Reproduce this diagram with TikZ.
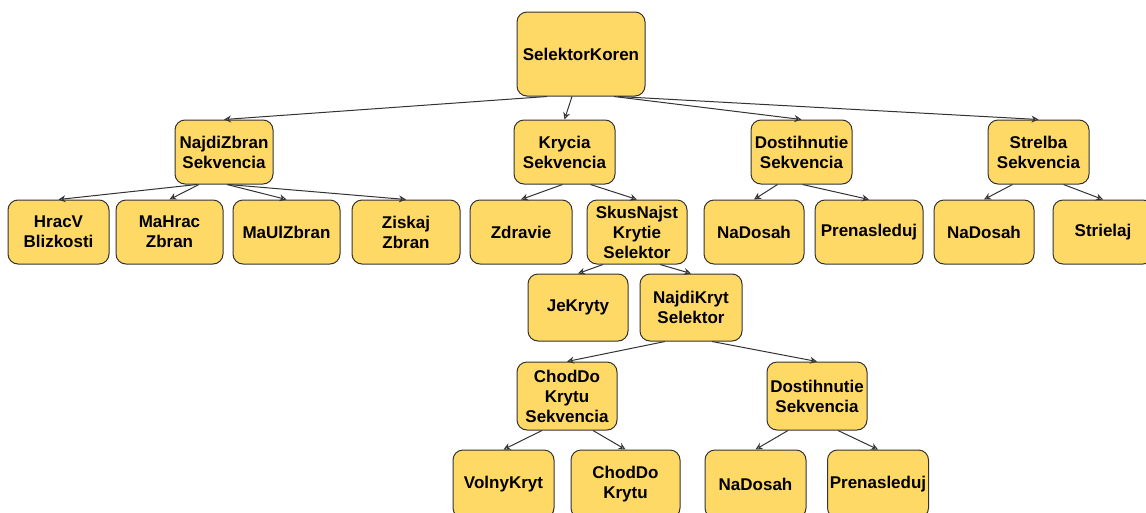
\documentclass[tikz,border=0pt]{standalone}
\usepackage{fontspec}
\setmainfont{Liberation Sans}
\usepackage{xcolor}
\usetikzlibrary{arrows.meta,positioning}
\definecolor{knotenGelb}{HTML}{FFD966}
\definecolor{randGrau}{HTML}{333333}
\tikzstyle{treeNode} = [draw=randGrau, fill=knotenGelb, rounded corners=10pt,
	line width=1pt, align=center, inner sep=0pt,
	minimum width=100pt, minimum height=64pt,
	font=\fontsize{17}{20}\selectfont\bfseries]
\tikzstyle{treeArrow} = [draw=randGrau, line width=1pt,
	-{Stealth[open,length=7pt,width=7pt]}]

\begin{document}
\begin{tikzpicture}[x=1pt,y=-1pt]
		\clip (0,0) rectangle (1146,512);
		\useasboundingbox (0,0) rectangle (1146,512);
		\node[treeNode, minimum width=128pt, minimum height=84pt] (root) at (581,54) {SelektorKoren};	% Wurzel
		% 1. Ebene
		\node[treeNode, minimum width=98pt] (najdiZbran) at (224,152) {NajdiZbran\\Sekvencia};
		\node[treeNode, minimum width=101pt] (krycia) at (564.5,152) {Krycia\\Sekvencia};
		\node[treeNode, minimum width=101pt] (dostihnutie) at (801.5,152) {Dostihnutie\\Sekvencia};
		\node[treeNode, minimum width=101pt] (strelba) at (1038.5,152) {Strelba\\Sekvencia};
		% 2. Ebene
		\node[treeNode, minimum width=101pt] (hracV) at (58.5,232) {HracV\\Blizkosti};
		\node[treeNode, minimum width=107pt] (maHrac) at (169.5,232) {MaHrac\\Zbran};
		\node[treeNode, minimum width=107pt] (maUl) at (286.5,232) {MaUlZbran};
		\node[treeNode, minimum width=108pt] (ziskaj) at (406,232) {Ziskaj\\Zbran};
		\node[treeNode, minimum width=102pt] (zdravie) at (521,232) {Zdravie};
		\node[treeNode] (skusNajst) at (637,232) {SkusNajst\\Krytie\\Selektor};
		\node[treeNode] (naDosahA) at (754,232) {NaDosah};
		\node[treeNode, minimum width=108pt] (prenaslA) at (869,232) {Prenasleduj};
		\node[treeNode] (naDosahB) at (984,232) {NaDosah};
		\node[treeNode] (strielaj) at (1103,232) {Strielaj};
		% 3. Ebene
		\node[treeNode, minimum height=67pt] (jeKryty) at (578,307.5) {JeKryty};
		\node[treeNode, minimum width=102pt, minimum height=67pt] (najdiKryt) at (691,307.5) {NajdiKryt\\Selektor};
		% 4. Ebene
		\node[treeNode, minimum height=68pt] (chodDoSek) at (567,396) {ChodDo\\Krytu\\Sekvencia};
		\node[treeNode, minimum height=68pt] (dostihnutieB) at (817,396) {Dostihnutie\\Sekvencia};
		% 5. Ebene (unten abgeschnitten)
		\node[treeNode, minimum width=101pt, minimum height=68pt] (volnyKryt) at (503.5,484) {VolnyKryt};
		\node[treeNode, minimum width=109pt, minimum height=68pt] (chodDo) at (625.5,484) {ChodDo\\Krytu};
		\node[treeNode, minimum width=101pt, minimum height=68pt] (naDosahC) at (755.5,484) {NaDosah};
		\node[treeNode, minimum width=101pt, minimum height=68pt] (prenaslB) at (878,484) {Prenasleduj};

		% Pfeile
		\draw[treeArrow] ([xshift=-34pt]root.south) -- (najdiZbran.north);
		\draw[treeArrow] ([xshift=-9pt]root.south) -- (krycia.north);
		\draw[treeArrow] ([xshift=33pt]root.south) -- (dostihnutie.north);
		\draw[treeArrow] ([xshift=37pt]root.south) -- (strelba.north);
		\draw[treeArrow] ([xshift=-27pt]najdiZbran.south) -- (hracV.north);
		\draw[treeArrow] ([xshift=-25pt]najdiZbran.south) -- (maHrac.north);
		\draw[treeArrow] ([xshift=3pt]najdiZbran.south) -- (maUl.north);
		\draw[treeArrow] ([xshift=4pt]najdiZbran.south) -- (ziskaj.north);
		\draw[treeArrow] ([xshift=-2pt]krycia.south) -- (zdravie.north);
		\draw[treeArrow] ([xshift=26pt]krycia.south) -- (skusNajst.north);
		\draw[treeArrow] ([xshift=-24pt]dostihnutie.south) -- (naDosahA.north);
		\draw[treeArrow] ([xshift=1pt]dostihnutie.south) -- (prenaslA.north);
		\draw[treeArrow] ([xshift=-26pt]strelba.south) -- (naDosahB.north);
		\draw[treeArrow] ([xshift=25pt]strelba.south) -- (strielaj.north);
		\draw[treeArrow] ([xshift=-34pt]skusNajst.south) -- (jeKryty.north);
		\draw[treeArrow] ([xshift=23pt]skusNajst.south) -- (najdiKryt.north);
		\draw[treeArrow] ([xshift=-26pt]najdiKryt.south) -- (chodDoSek.north);
		\draw[treeArrow] ([xshift=21pt]najdiKryt.south) -- (dostihnutieB.north);
		\draw[treeArrow] ([xshift=-25pt]chodDoSek.south) -- (volnyKryt.north);
		\draw[treeArrow] ([xshift=26pt]chodDoSek.south) -- (chodDo.north);
		\draw[treeArrow] ([xshift=-29pt]dostihnutieB.south) -- (naDosahC.north);
		\draw[treeArrow] ([xshift=21pt]dostihnutieB.south) -- (prenaslB.north);
\end{tikzpicture}
\end{document}
